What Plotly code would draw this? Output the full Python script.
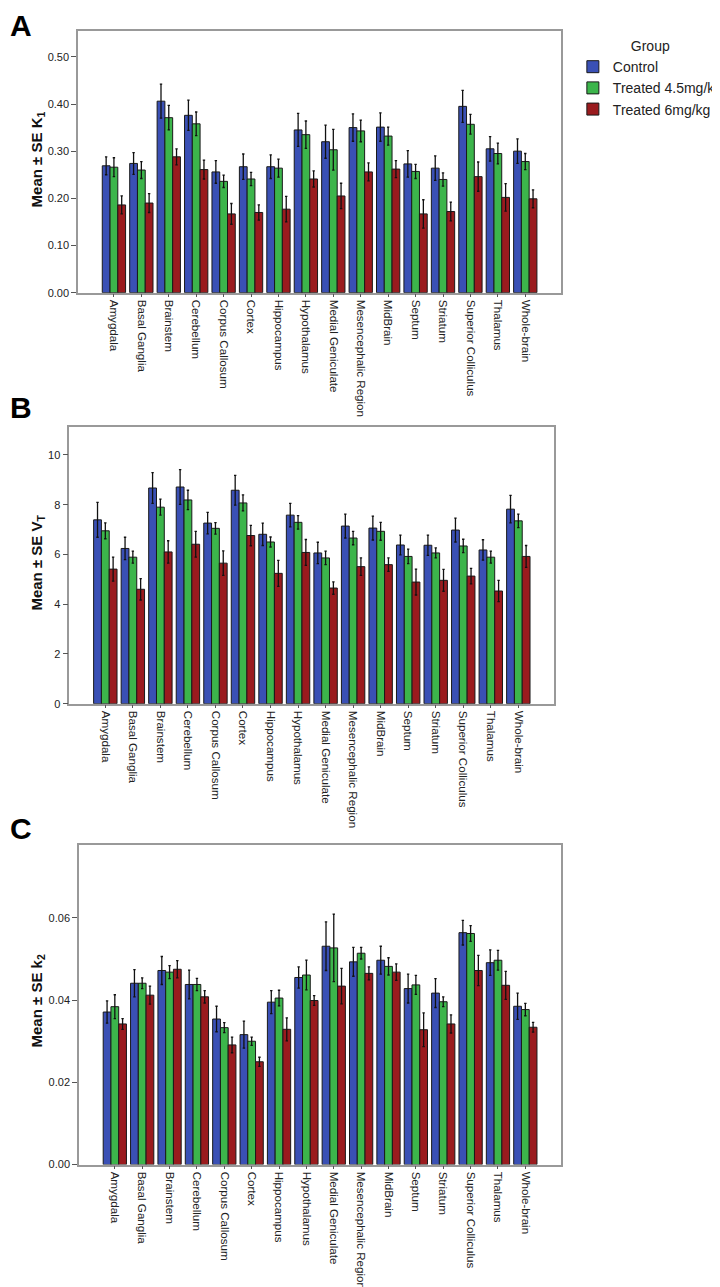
import plotly.graph_objects as go

regions = ["Amygdala", "Basal Ganglia", "Brainstem", "Cerebellum", "Corpus Callosum", "Cortex",
           "Hippocampus", "Hypothalamus", "Medial Geniculate", "Mesencephalic Region", "MidBrain",
           "Septum", "Striatum", "Superior Colliculus", "Thalamus", "Whole-brain"]
groups = ["Control", "Treated 4.5mg/kg", "Treated 6mg/kg"]
colors = ["#3A50B5", "#3CB54B", "#9A1B1E"]

# Panel A: K1
k1_control = [0.269, 0.274, 0.406, 0.376, 0.256, 0.267, 0.267, 0.345, 0.320, 0.350, 0.351, 0.273, 0.264, 0.395, 0.305, 0.300]
k1_control_se = [0.019, 0.023, 0.036, 0.032, 0.024, 0.027, 0.025, 0.035, 0.035, 0.029, 0.030, 0.028, 0.026, 0.034, 0.026, 0.026]
k1_t45 = [0.266, 0.260, 0.371, 0.358, 0.236, 0.241, 0.264, 0.335, 0.303, 0.343, 0.332, 0.257, 0.240, 0.357, 0.295, 0.278]
k1_t45_se = [0.020, 0.018, 0.026, 0.025, 0.013, 0.014, 0.019, 0.029, 0.043, 0.023, 0.019, 0.015, 0.014, 0.021, 0.022, 0.017]
k1_t6 = [0.186, 0.190, 0.288, 0.261, 0.167, 0.170, 0.177, 0.241, 0.205, 0.256, 0.262, 0.167, 0.172, 0.246, 0.202, 0.199]
k1_t6_se = [0.019, 0.020, 0.017, 0.020, 0.022, 0.016, 0.027, 0.017, 0.027, 0.019, 0.018, 0.030, 0.020, 0.031, 0.029, 0.019]

# Panel B: VT
vt_control = [7.39, 6.24, 8.67, 8.71, 7.26, 8.58, 6.81, 7.58, 6.06, 7.14, 7.06, 6.38, 6.37, 6.98, 6.18, 7.82]
vt_control_se = [0.70, 0.45, 0.62, 0.70, 0.43, 0.60, 0.45, 0.47, 0.43, 0.48, 0.48, 0.40, 0.41, 0.48, 0.41, 0.55]
vt_t45 = [6.95, 5.89, 7.90, 8.19, 7.05, 8.07, 6.50, 7.29, 5.86, 6.66, 6.93, 5.92, 6.06, 6.34, 5.89, 7.35]
vt_t45_se = [0.32, 0.24, 0.32, 0.39, 0.23, 0.32, 0.20, 0.27, 0.27, 0.27, 0.36, 0.29, 0.20, 0.27, 0.24, 0.27]
vt_t6 = [5.41, 4.60, 6.10, 6.41, 5.65, 6.76, 5.24, 6.08, 4.65, 5.51, 5.59, 4.89, 4.96, 5.13, 4.53, 5.92]
vt_t6_se = [0.48, 0.43, 0.45, 0.52, 0.49, 0.41, 0.52, 0.52, 0.25, 0.35, 0.27, 0.52, 0.44, 0.31, 0.43, 0.44]

# Panel C: k2
k2_control = [0.0371, 0.0441, 0.0472, 0.0438, 0.0354, 0.0316, 0.0395, 0.0455, 0.0531, 0.0493, 0.0497, 0.0428, 0.0417, 0.0564, 0.0491, 0.0385]
k2_control_se = [0.0027, 0.0033, 0.0034, 0.0035, 0.0031, 0.0033, 0.0028, 0.0026, 0.0059, 0.0035, 0.0034, 0.0035, 0.0035, 0.0030, 0.0031, 0.0032]
k2_t45 = [0.0384, 0.0441, 0.0468, 0.0438, 0.0333, 0.0300, 0.0405, 0.0461, 0.0527, 0.0514, 0.0482, 0.0437, 0.0396, 0.0562, 0.0497, 0.0377]
k2_t45_se = [0.0029, 0.0013, 0.0016, 0.0015, 0.0012, 0.0010, 0.0019, 0.0036, 0.0082, 0.0014, 0.0021, 0.0023, 0.0012, 0.0019, 0.0024, 0.0015]
k2_t6 = [0.0342, 0.0412, 0.0475, 0.0408, 0.0291, 0.0250, 0.0329, 0.0399, 0.0434, 0.0465, 0.0468, 0.0328, 0.0342, 0.0472, 0.0436, 0.0334]
k2_t6_se = [0.0013, 0.0022, 0.0021, 0.0015, 0.0019, 0.0011, 0.0028, 0.0012, 0.0043, 0.0016, 0.0020, 0.0041, 0.0022, 0.0037, 0.0034, 0.0012]

W, H = 720, 1287
FONT = "Arial, Liberation Sans, sans-serif"

panels = [
    dict(vals=[(k1_control, k1_control_se), (k1_t45, k1_t45_se), (k1_t6, k1_t6_se)],
         xdom=(72, 569), ytop=23, ybot=286, yrange=[0, 0.555], dtick=0.1, fmt=".2f",
         title="Mean ± SE K<sub>1</sub>", titley=152, letter="A", lettertop=0),
    dict(vals=[(vt_control, vt_control_se), (vt_t45, vt_t45_se), (vt_t6, vt_t6_se)],
         xdom=(63, 562), ytop=421, ybot=699, yrange=[0, 11.12], dtick=2, fmt="d",
         title="Mean ± SE V<sub>T</sub>", titley=557, letter="B", lettertop=384),
    dict(vals=[(k2_control, k2_control_se), (k2_t45, k2_t45_se), (k2_t6, k2_t6_se)],
         xdom=(73, 569), ytop=841, ybot=1162, yrange=[0, 0.0777], dtick=0.02, fmt=".2f",
         title="Mean ± SE k<sub>2</sub>", titley=998, letter="C", lettertop=807),
]

fig = go.Figure()
annotations = []
layout = {}
for p_i, p in enumerate(panels):
    suffix = "" if p_i == 0 else str(p_i + 1)
    for g_i, (v, se) in enumerate(p["vals"]):
        fig.add_trace(go.Bar(
            x=regions, y=v, name=groups[g_i],
            marker=dict(color=colors[g_i], line=dict(color="#1a1a1a", width=1)),
            error_y=dict(type="data", array=se, color="#111111", thickness=1.3, width=1.2),
            xaxis="x" + suffix, yaxis="y" + suffix,
            legendgroup=groups[g_i], showlegend=(p_i == 0),
        ))
    x0, x1 = p["xdom"]
    layout["xaxis" + suffix] = dict(
        domain=[x0 / W, x1 / W], anchor="y" + suffix, type="category",
        categoryorder="array", categoryarray=regions, range=[-1.31, 16.31],
        tickangle=90, ticks="outside", ticklen=3, tickcolor="#555",
        showline=True, linecolor="#999", linewidth=1.5, mirror=True,
        showgrid=False, tickfont=dict(family=FONT, size=11.6, color="#222"),
    )
    layout["yaxis" + suffix] = dict(
        domain=[1 - p["ybot"] / H, 1 - p["ytop"] / H], anchor="x" + suffix,
        range=p["yrange"], dtick=p["dtick"], tick0=0, tickformat=p["fmt"],
        ticks="outside", ticklen=5, tickcolor="#555",
        showline=True, linecolor="#999", linewidth=1.5, mirror=True,
        showgrid=False, zeroline=False, tickfont=dict(family=FONT, size=11, color="#222"),
    )
    annotations.append(dict(
        text="<b>" + p["title"] + "</b>", textangle=-90, xref="paper", yref="paper",
        x=30 / W, y=1 - p["titley"] / H, showarrow=False,
        xanchor="center", yanchor="middle", font=dict(family=FONT, size=15, color="#111"),
    ))
    annotations.append(dict(
        text="<b>" + p["letter"] + "</b>", xref="paper", yref="paper",
        x=13 / W, y=1 - p["lettertop"] / H, showarrow=False, xanchor="center", yanchor="top",
        font=dict(family=FONT, size=30, color="#000"), borderpad=0,
    ))

fig.update_layout(
    width=W, height=H, margin=dict(l=0, r=0, t=0, b=0),
    paper_bgcolor="white", plot_bgcolor="white",
    barmode="group", bargap=0.15, bargroupgap=0,
    annotations=annotations,
    legend=dict(x=581 / W, y=1 - 25 / H, xanchor="left", yanchor="top",
                title=dict(text="Group", side="top center", font=dict(family=FONT, size=14, color="#222")),
                font=dict(family=FONT, size=14, color="#222"), tracegroupgap=0,
                bgcolor="rgba(0,0,0,0)"),
    **layout,
)

fig.write_html("out.html")
